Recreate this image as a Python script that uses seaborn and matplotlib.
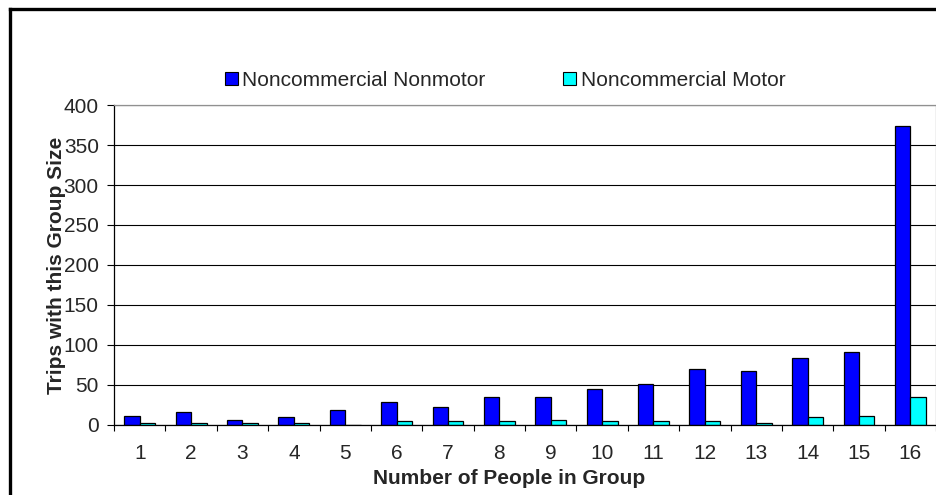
import pandas as pd
import matplotlib
matplotlib.use("Agg")
import matplotlib.pyplot as plt
import seaborn as sns
import numpy as np
from matplotlib.patches import Patch
from matplotlib.lines import Line2D

# Trips by group size
group_sizes = [str(i) for i in range(1, 17)]
nonmotor = [11, 16, 6, 10, 18, 28, 22, 34, 35, 44, 51, 70, 67, 83, 91, 374]
motor = [2, 2, 2, 2, 0, 5, 4, 4, 6, 4, 4, 4, 2, 10, 11, 35]
series_names = ["Noncommercial Nonmotor", "Noncommercial Motor"]
series_colors = ["#0000FF", "#00FFFF"]

df = pd.DataFrame({
    "size": group_sizes * 2,
    "trips": nonmotor + motor,
    "type": [series_names[0]] * len(group_sizes) + [series_names[1]] * len(group_sizes),
})

sns.set_style("white")
plt.rcParams["font.family"] = ["Liberation Sans", "DejaVu Sans"]

fig = plt.figure(figsize=(9.37, 4.95), dpi=100)
ax = fig.add_axes([0.1217, 0.1424, 0.8773, 0.6449])

sns.barplot(data=df, x="size", y="trips", hue="type", order=group_sizes,
            hue_order=series_names, palette=series_colors, width=0.6, gap=0,
            edgecolor="black", linewidth=0.9, saturation=1, legend=False, ax=ax)

# axes, grid, ticks
ax.set_xlim(-0.5, len(group_sizes) - 0.5)
ax.set_ylim(0, 400)
ax.set_yticks(np.arange(0, 401, 50))
ax.yaxis.grid(True, color="black", linewidth=0.8)
ax.set_axisbelow(True)
ax.tick_params(axis="y", direction="out", length=5, width=0.8, color="black",
               labelsize=15, pad=6, left=True)
ax.set_xticks(range(len(group_sizes)))
ax.set_xticklabels(group_sizes)
ax.set_xticks(np.arange(-0.5, len(group_sizes), 1), minor=True)
ax.tick_params(axis="x", which="major", length=0, labelsize=15, pad=14)
ax.tick_params(axis="x", which="minor", direction="out", length=4.5, width=0.8,
               color="black", bottom=True)

for side in ["left", "bottom"]:
    ax.spines[side].set_color("black")
    ax.spines[side].set_linewidth(0.9)
for side in ["top", "right"]:
    ax.spines[side].set_color("#909090")
    ax.spines[side].set_linewidth(0.9)

ax.set_xlabel("Number of People in Group", fontsize=15, fontweight="bold")
ax.set_ylabel("Trips with this Group Size", fontsize=15, fontweight="bold")
ax.xaxis.set_label_coords(0.481, -0.139)
ax.yaxis.set_label_coords(-0.059, 0.5)

# legend above the plot
handles = [Patch(facecolor=c, edgecolor="black", linewidth=0.8) for c in series_colors]
fig.legend(handles, series_names, loc="center", bbox_to_anchor=(0.539, 0.838),
           ncol=2, frameon=False, fontsize=15, handlelength=0.62,
           handleheight=0.62, handletextpad=0.2, columnspacing=3.75)

# outer chart frame (left and top edges visible)
fig.add_artist(Line2D([0.0106, 0.0106], [0.0, 0.982], transform=fig.transFigure,
                      color="black", linewidth=2.4, solid_capstyle="projecting"))
fig.add_artist(Line2D([0.0106, 1.0], [0.982, 0.982], transform=fig.transFigure,
                      color="black", linewidth=2.4, solid_capstyle="projecting"))

fig.savefig("out.png", dpi=100)
